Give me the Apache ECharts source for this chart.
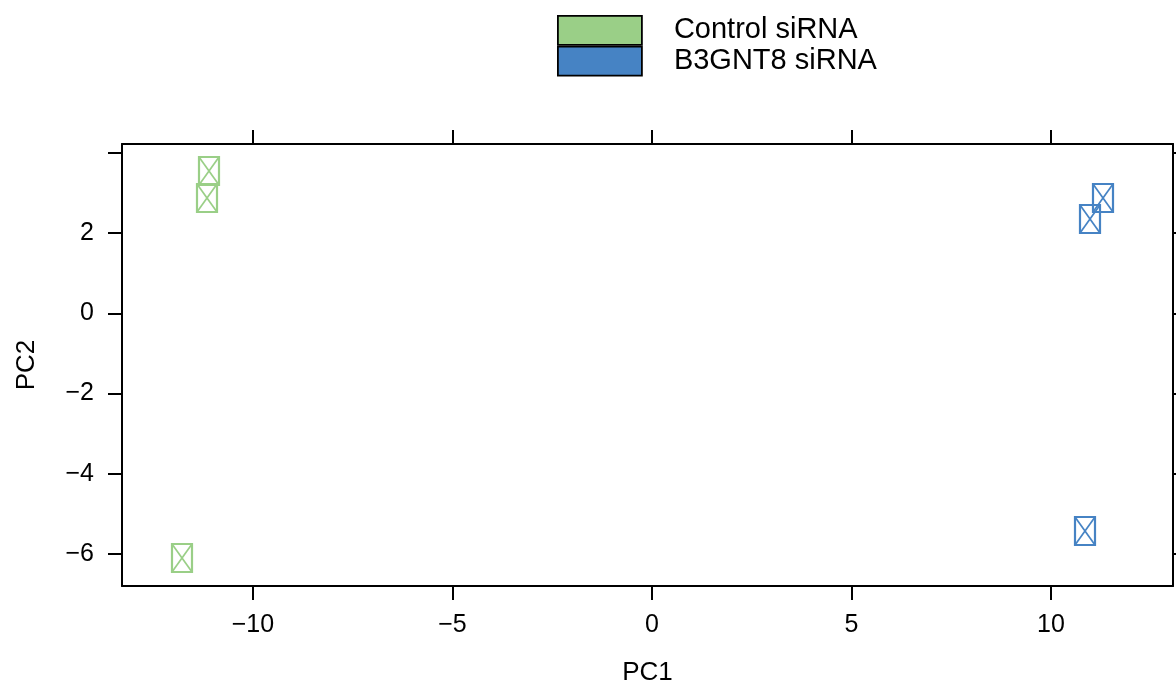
<!DOCTYPE html>
<html>
<head>
<meta charset="utf-8">
<style>
  html, body { margin: 0; padding: 0; background: #fff; }
  #chart { width: 1176px; height: 686px; }
</style>
<script src="https://cdn.jsdelivr.net/npm/echarts@6/dist/echarts.min.js"></script>
</head>
<body>
<div id="chart"></div>
<script>
// PCA scores for each sample group: [PC1, PC2]
const groupNames = ['Control siRNA', 'B3GNT8 siRNA'];
const controlPoints = [[-11.10, 3.55], [-11.15, 2.87], [-11.78, -6.10]];
const b3gnt8Points = [[11.30, 2.87], [10.98, 2.35], [10.85, -5.43]];

// Axis extents and tick positions
const xRange = [-13.28, 13.06];
const yRange = [-6.80, 4.22];
const xTicks = [-10, -5, 0, 5, 10];
const yTicks = [-6, -4, -2, 0, 2, 4];
const yLabelTicks = [-6, -4, -2, 0, 2];

const colors = ['#9ACF87', '#4683C4'];
const FONT = '"Liberation Sans", Arial, sans-serif';

const fmt = v => (v < 0 ? '\u2212' + Math.abs(v) : String(v));

// Open box with a cross, drawn at each sample position
function boxCross(color) {
  return function (params, api) {
    const p = api.coord([api.value(0), api.value(1)]);
    const w = 20, h = 28;
    const x0 = Math.round(p[0] - w / 2), y0 = Math.round(p[1] - h / 2);
    return {
      type: 'group',
      children: [
        { type: 'rect', shape: { x: x0, y: y0, width: w, height: h },
          style: { fill: 'none', stroke: color, lineWidth: 2.2 } },
        { type: 'line', shape: { x1: x0, y1: y0, x2: x0 + w, y2: y0 + h },
          style: { stroke: color, lineWidth: 1.7 } },
        { type: 'line', shape: { x1: x0 + w, y1: y0, x2: x0, y2: y0 + h },
          style: { stroke: color, lineWidth: 1.7 } }
      ]
    };
  };
}

const frameLine = { show: true, onZero: false, lineStyle: { color: '#000', width: 2 } };
const tickStyle = { color: '#000', width: 2 };

const chart = echarts.init(document.getElementById('chart'), null, { renderer: 'canvas' });

chart.setOption({
  backgroundColor: '#fff',
  animation: false,
  textStyle: { fontFamily: FONT },
  grid: { left: 122, right: 3, top: 144, bottom: 100, containLabel: false, outerBoundsMode: 'none' },
  legend: {
    orient: 'vertical',
    left: 557,
    top: 15,
    padding: 0,
    itemWidth: 84,
    itemHeight: 29,
    itemGap: 0,
    icon: 'rect',
    selectedMode: false,
    textStyle: { fontFamily: FONT, fontSize: 29, color: '#000', lineHeight: 29, padding: [0, 0, 0, 27] },
    data: [
      { name: groupNames[0], itemStyle: { color: colors[0], borderColor: '#000', borderWidth: 1.8 } },
      { name: groupNames[1], itemStyle: { color: colors[1], borderColor: '#000', borderWidth: 1.8 } }
    ]
  },
  xAxis: [
    {
      type: 'value', position: 'bottom', min: xRange[0], max: xRange[1],
      name: 'PC1', nameLocation: 'middle', nameGap: 74,
      nameTextStyle: { fontFamily: FONT, fontSize: 26, color: '#000' },
      axisLine: frameLine,
      axisTick: { show: true, length: 14, lineStyle: tickStyle, customValues: xTicks },
      axisLabel: { show: true, margin: 27, fontSize: 25, color: '#000', fontFamily: FONT,
                   customValues: xTicks, formatter: fmt },
      splitLine: { show: false }
    },
    {
      type: 'value', position: 'top', min: xRange[0], max: xRange[1],
      axisLine: frameLine,
      axisTick: { show: true, length: 14, lineStyle: tickStyle, customValues: xTicks },
      axisLabel: { show: false },
      splitLine: { show: false }
    }
  ],
  yAxis: [
    {
      type: 'value', position: 'left', min: yRange[0], max: yRange[1],
      name: 'PC2', nameLocation: 'middle', nameGap: 82, nameRotate: 90,
      nameTextStyle: { fontFamily: FONT, fontSize: 26, color: '#000' },
      axisLine: frameLine,
      axisTick: { show: true, length: 14, lineStyle: tickStyle, customValues: yTicks },
      axisLabel: { show: true, margin: 28, fontSize: 25, color: '#000', fontFamily: FONT,
                   customValues: yLabelTicks, formatter: fmt },
      splitLine: { show: false }
    },
    {
      type: 'value', position: 'right', min: yRange[0], max: yRange[1],
      axisLine: frameLine,
      axisTick: { show: true, length: 14, lineStyle: tickStyle, customValues: yTicks },
      axisLabel: { show: false },
      splitLine: { show: false }
    }
  ],
  series: [
    {
      name: groupNames[0], type: 'custom', xAxisIndex: 0, yAxisIndex: 0,
      itemStyle: { color: colors[0] },
      renderItem: boxCross(colors[0]),
      data: controlPoints
    },
    {
      name: groupNames[1], type: 'custom', xAxisIndex: 0, yAxisIndex: 0,
      itemStyle: { color: colors[1] },
      renderItem: boxCross(colors[1]),
      data: b3gnt8Points
    }
  ]
});
</script>
</body>
</html>
